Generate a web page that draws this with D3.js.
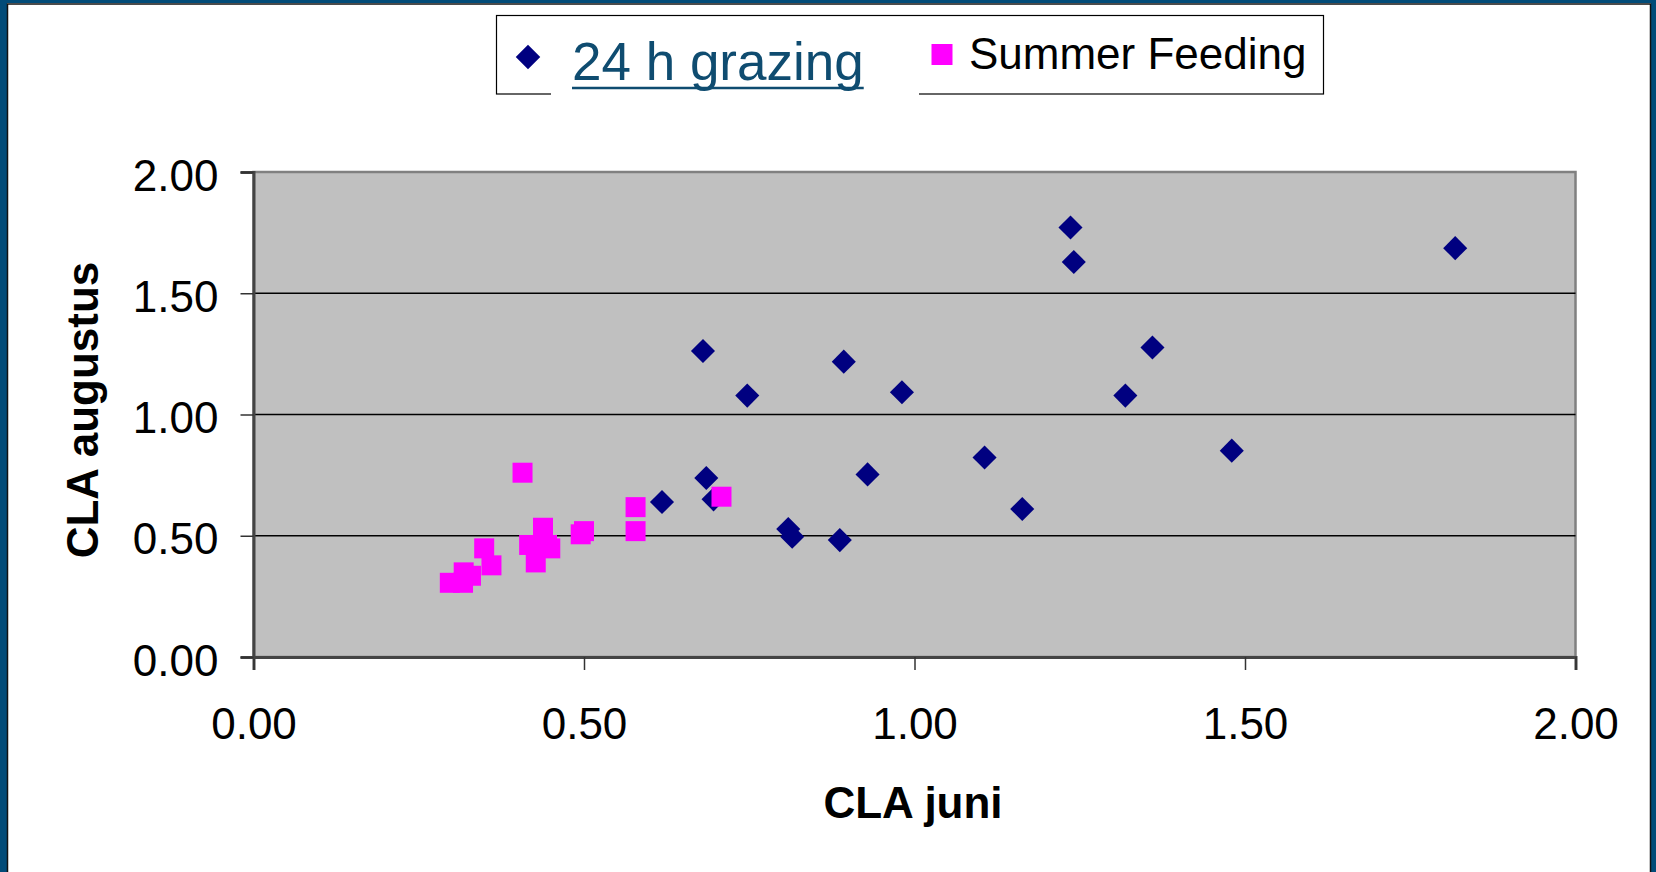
<!DOCTYPE html>
<html>
<head>
<meta charset="utf-8">
<script src="https://cdn.jsdelivr.net/npm/d3@7"></script>
<style>
	body { margin: 0; background: #fff; }
	svg { display: block; }
	text { font-family: "Liberation Sans", Arial, sans-serif; }
</style>
</head>
<body>
<div id="chart"></div>
<script>
	// 24 h grazing (diamonds)
	let grazingJuni = [1.236, 1.241, 1.818, 1.360, 1.319, 1.480, 1.163, 0.680, 0.893, 0.747, 0.981, 1.106, 0.929, 0.685, 0.618, 0.696, 0.809, 0.815, 0.887];
	let grazingAugustus = [1.771, 1.629, 1.686, 1.276, 1.078, 0.851, 0.610, 1.262, 1.218, 1.078, 1.092, 0.823, 0.753, 0.738, 0.639, 0.650, 0.528, 0.496, 0.482];

	// Summer Feeding (squares)
	let feedingJuni = [0.407, 0.578, 0.578, 0.500, 0.495, 0.438, 0.417, 0.444, 0.449, 0.427, 0.349, 0.360, 0.318, 0.329, 0.297, 0.317, 0.708];
	let feedingAugustus = [0.760, 0.618, 0.519, 0.519, 0.506, 0.533, 0.462, 0.462, 0.448, 0.390, 0.448, 0.378, 0.349, 0.335, 0.306, 0.306, 0.661];

	let tickValues = [0, 0.5, 1, 1.5, 2];
	let seriesNames = ["24 h grazing", "Summer Feeding"];

	let width = 1656;
	let height = 872;
	let plot = { left: 253.5, right: 1575.5, top: 172, bottom: 657 };

	let svg = d3.select('#chart')
		.append('svg')
		.attr('width', width)
		.attr('height', height);

	// slide frame
	svg.append('rect').attr('x', 0).attr('y', 0).attr('width', width).attr('height', height).attr('fill', '#fff');
	svg.append('rect').attr('x', 0).attr('y', 0).attr('width', 7).attr('height', height).attr('fill', '#014b78');
	svg.append('rect').attr('x', 0).attr('y', 0).attr('width', width).attr('height', 3).attr('fill', '#014b78');
	svg.append('rect').attr('x', 1651).attr('y', 0).attr('width', 5).attr('height', height).attr('fill', '#014b78');
	svg.append('path')
		.attr('d', `M7.5,${height} V4 H1650.5 V${height}`)
		.attr('fill', 'none')
		.attr('stroke', '#111')
		.attr('stroke-width', 1.5);

	let xScale = d3.scaleLinear().domain([0, 2]).range([plot.left, plot.right]);
	let yScale = d3.scaleLinear().domain([0, 2]).range([plot.bottom, plot.top]);

	// plot area
	svg.append('rect')
		.attr('x', plot.left)
		.attr('y', plot.top)
		.attr('width', plot.right - plot.left)
		.attr('height', plot.bottom - plot.top)
		.attr('fill', '#c0c0c0')
		.attr('stroke', '#808080')
		.attr('stroke-width', 2.5);

	svg.append('g')
		.selectAll('line')
		.data(tickValues.filter(d => d > 0 && d < 2))
		.enter()
		.append('line')
		.attr('x1', plot.left)
		.attr('x2', plot.right)
		.attr('y1', d => yScale(d))
		.attr('y2', d => yScale(d))
		.attr('stroke', '#000')
		.attr('stroke-width', 1.5);

	let fmt = d3.format(".2f");

	let xAxis = svg.append('g')
		.attr('transform', `translate(0,${plot.bottom})`)
		.call(d3.axisBottom(xScale).tickValues(tickValues).tickFormat(fmt).tickSize(13).tickPadding(38));

	let yAxis = svg.append('g')
		.attr('transform', `translate(${plot.left},0)`)
		.call(d3.axisLeft(yScale).tickValues(tickValues).tickFormat(fmt).tickSize(13).tickPadding(22));

	[xAxis, yAxis].forEach(ax => {
		ax.select('.domain').attr('stroke', '#444').attr('stroke-width', 3);
		ax.selectAll('.tick line').attr('stroke', '#333').attr('stroke-width', 1.5);
		ax.selectAll('.tick text')
			.attr('fill', '#000')
			.style('font-family', '"Liberation Sans", Arial, sans-serif')
			.style('font-size', '44px');
	});
	yAxis.selectAll('.tick text').attr('dy', '0.41em');

	// markers
	let diamond = d3.symbol().type(d3.symbolSquare).size(290);
	let square = d3.symbol().type(d3.symbolSquare).size(400);

	svg.append('g')
		.selectAll('path')
		.data(grazingJuni.map((v, i) => [v, grazingAugustus[i]]))
		.enter()
		.append('path')
		.attr('d', diamond)
		.attr('transform', d => `translate(${xScale(d[0])},${yScale(d[1])}) rotate(45)`)
		.attr('fill', '#000080');

	svg.append('g')
		.selectAll('path')
		.data(feedingJuni.map((v, i) => [v, feedingAugustus[i]]))
		.enter()
		.append('path')
		.attr('d', square)
		.attr('transform', d => `translate(${xScale(d[0])},${yScale(d[1])})`)
		.attr('fill', '#ff00ff');

	// axis titles
	svg.append('text')
		.attr('x', 913)
		.attr('y', 818)
		.style('text-anchor', 'middle')
		.style('font-size', '44px')
		.style('font-weight', 'bold')
		.text('CLA juni');

	svg.append('text')
		.attr('transform', 'translate(98,410) rotate(-90)')
		.style('text-anchor', 'middle')
		.style('font-size', '44px')
		.style('font-weight', 'bold')
		.text('CLA augustus');

	// legend
	svg.append('rect')
		.attr('x', 496.5)
		.attr('y', 15.5)
		.attr('width', 827)
		.attr('height', 78.5)
		.attr('fill', '#fff')
		.attr('stroke', '#000')
		.attr('stroke-width', 1.2);

	svg.append('path')
		.attr('d', d3.symbol().type(d3.symbolSquare).size(300))
		.attr('transform', 'translate(528,57) rotate(45)')
		.attr('fill', '#000080');

	// link-style label sits on its own white box that cuts the legend border
	svg.append('rect')
		.attr('x', 551)
		.attr('y', 28)
		.attr('width', 368)
		.attr('height', 70)
		.attr('fill', '#fff');

	let linkText = svg.append('text')
		.attr('x', 572)
		.attr('y', 80)
		.style('font-size', '53px')
		.attr('fill', '#0f4c70')
		.text(seriesNames[0]);

	let linkLen = linkText.node().getComputedTextLength();
	svg.append('line')
		.attr('x1', 572)
		.attr('x2', 572 + linkLen)
		.attr('y1', 88)
		.attr('y2', 88)
		.attr('stroke', '#0f4c70')
		.attr('stroke-width', 2.5);

	svg.append('path')
		.attr('d', d3.symbol().type(d3.symbolSquare).size(441))
		.attr('transform', 'translate(942,54.5)')
		.attr('fill', '#ff00ff');

	svg.append('text')
		.attr('x', 969)
		.attr('y', 69)
		.style('font-size', '44px')
		.attr('fill', '#000')
		.text(seriesNames[1]);
</script>
</body>
</html>
